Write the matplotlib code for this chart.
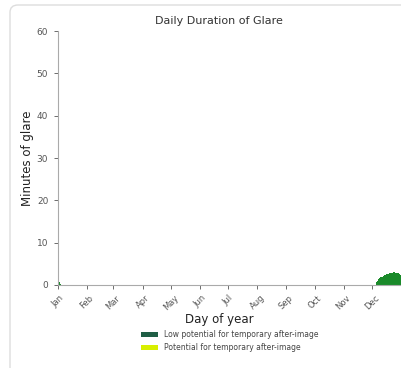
import matplotlib
matplotlib.use("Agg")
import matplotlib.pyplot as plt
from matplotlib.patches import FancyBboxPatch, Patch
import numpy as np

months = ["Jan", "Feb", "Mar", "Apr", "May", "Jun", "Jul", "Aug", "Sep", "Oct", "Nov", "Dec"]
month_start_days = [0, 31, 59, 90, 120, 151, 181, 212, 243, 273, 304, 334]

low_days = [0, 1, 2, 338, 339, 340, 341, 342, 343, 344, 345, 346, 347, 348, 349, 350,
            351, 352, 353, 354, 355, 356, 357, 358, 359, 360, 361, 362, 363, 364]
low_minutes = [0.8, 0.6, 0.3, 0.6, 1.0, 1.2, 1.4, 1.6, 1.8, 2.0, 2.0, 2.2, 2.3, 2.4, 2.5, 2.6,
               2.7, 2.8, 2.8, 2.9, 2.9, 3.0, 3.0, 3.0, 2.9, 2.9, 2.8, 2.8, 2.6, 2.4]
pot_days = []
pot_minutes = []

legend_labels = ["Low potential for temporary after-image", "Potential for temporary after-image"]
legend_colors = ["#1f5e45", "#d8ef00"]
bar_color = "#1a8a2a"

fig = plt.figure(figsize=(4.02, 3.68), dpi=100)
fig.patch.set_facecolor("white")
top = 1 - 5 / 368
border = FancyBboxPatch((10 / 402, -0.05), 1.2, top + 0.05,
                        boxstyle="round,pad=0,rounding_size=0.02",
                        transform=fig.transFigure, facecolor="white",
                        edgecolor="#dddddd", linewidth=1.0, zorder=-10)
fig.patches.append(border)

ax = fig.add_axes([58 / 402, 1 - 285 / 368, 343 / 402, (285 - 31) / 368])
ax.set_facecolor("none")
ax.bar(low_days, low_minutes, width=1.0, align="edge", color=bar_color, edgecolor="none")
if pot_days:
    ax.bar(pot_days, pot_minutes, width=1.0, align="edge", color=legend_colors[1])

ax.set_xlim(0, 365)
ax.set_ylim(0, 60)
ax.set_yticks([0, 10, 20, 30, 40, 50, 60])
ax.set_xticks(month_start_days)
ax.set_xticklabels(months, rotation=45, ha="center", fontsize=6, color="#444444")
ax.tick_params(axis="y", labelsize=6.5, colors="#555555", length=3, width=0.6, pad=4)
ax.tick_params(axis="x", length=3, width=0.6, colors="#555555", pad=3)
for s in ["top", "right"]:
    ax.spines[s].set_visible(False)
for s in ["left", "bottom"]:
    ax.spines[s].set_color("#aaaaaa")
    ax.spines[s].set_linewidth(0.8)

ax.set_title("Daily Duration of Glare", fontsize=8, color="#333333", pad=5, x=0.47)
ax.set_ylabel("Minutes of glare", fontsize=8.5, color="#222222", labelpad=2)
ax.set_xlabel("Day of year", fontsize=8.5, color="#222222", labelpad=1, x=0.47)

handles = [Patch(facecolor=c, edgecolor="none") for c in legend_colors]
fig.legend(handles, legend_labels, loc="center", bbox_to_anchor=(230 / 402, 1 - 341 / 368),
           frameon=False, fontsize=5.5, handlelength=2.2, handleheight=0.7,
           labelspacing=0.5, handletextpad=0.8, labelcolor="#444444")

fig.savefig("out.png", dpi=100)
